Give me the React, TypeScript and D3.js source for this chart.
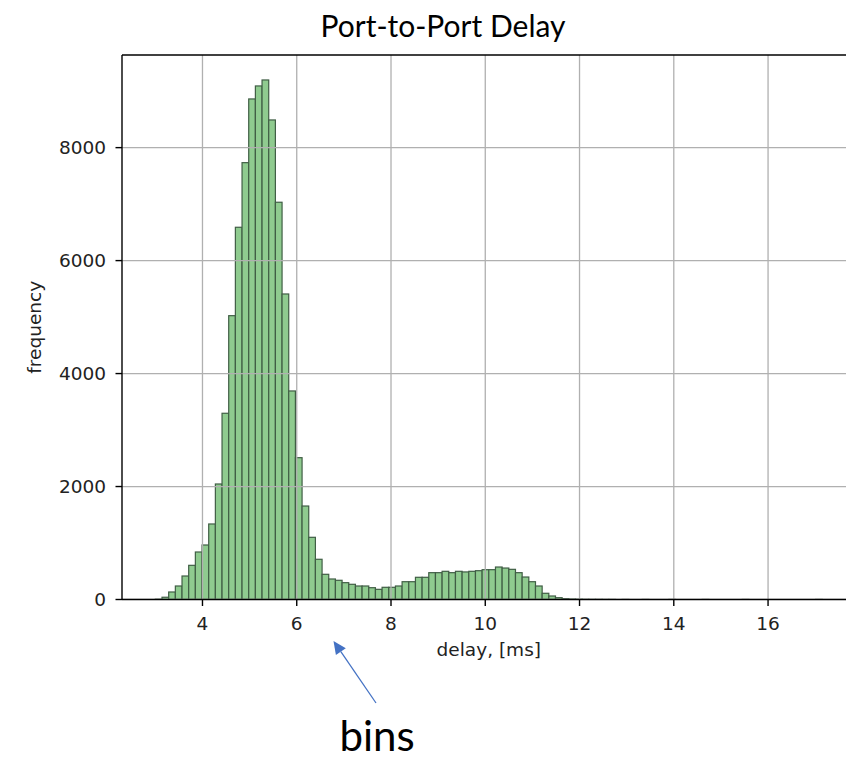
import React from "react";
import * as d3 from "d3";

// ---- data ----
const binStart = 3.0;
const binWidth = 0.1415;
const counts = [
  5, 40, 133, 239, 416, 605, 841, 965, 1337, 2045,
  3297, 5025, 6590, 7734, 8862, 9092, 9198, 8490, 7033, 5409,
  3692, 2511, 1655, 1101, 712, 446, 363, 340, 298, 269,
  239, 239, 209, 180, 216, 216, 239, 315, 315, 393,
  393, 475, 475, 499, 475, 499, 488, 499, 510, 528,
  528, 575, 557, 534, 475, 398, 315, 239, 110, 62,
  32, 15, 8, 5, 3, 2, 2, 1, 1, 0,
  1, 0, 0, 1, 0, 0, 0, 1, 0, 0,
  0, 0, 1, 0, 0, 0, 0, 0, 1, 0,
  0, 0, 0, 0, 0, 0, 0, 0, 0, 1,
];
const xTicks = [4, 6, 8, 10, 12, 14, 16];
const yTicks = [0, 2000, 4000, 6000, 8000];
const title = "Port-to-Port Delay";
const xLabel = "delay, [ms]";
const yLabel = "frequency";
const note = "bins";

const W = 846;
const H = 759;
const left = 122;
const right = 855.6;
const top = 55;
const bottom = 599.5;

export default function App() {
  const xMin = binStart - 0.05 * binWidth * counts.length;
  const xMax = binStart + binWidth * counts.length * 1.05;
  const x = d3.scaleLinear().domain([xMin, xMax]).range([left, right]);
  const y = d3.scaleLinear().domain([0, 9640]).range([bottom, top]);
  const tickFont = "'DejaVu Sans', sans-serif";
  const arrowTip = { x: 333.5, y: 641 };
  const arrowTail = { x: 376, y: 703 };
  const ang = Math.atan2(arrowTip.y - arrowTail.y, arrowTip.x - arrowTail.x);
  const hl = 13, hw = 6;
  const bx = arrowTip.x - hl * Math.cos(ang);
  const by = arrowTip.y - hl * Math.sin(ang);
  const head = [
    [arrowTip.x, arrowTip.y],
    [bx + hw * Math.sin(ang), by - hw * Math.cos(ang)],
    [bx - hw * Math.sin(ang), by + hw * Math.cos(ang)],
  ];
  return (
    <svg
      width={W}
      height={H}
      style={{ position: "absolute", left: 0, top: 0, background: "#fff" }}
    >
      <defs>
        <clipPath id="plot">
          <rect x={left} y={top} width={right - left} height={bottom - top} />
        </clipPath>
      </defs>
      <text
        x={443}
        y={37}
        textAnchor="middle"
        fontFamily="Lato, sans-serif"
        fontSize={30}
        fill="#000"
      >
        {title}
      </text>
      <g clipPath="url(#plot)">
        {counts.map((c, i) => {
          const x0 = x(binStart + i * binWidth);
          const x1 = x(binStart + (i + 1) * binWidth);
          return (
            <rect
              key={i}
              x={x0}
              y={y(c)}
              width={x1 - x0}
              height={bottom - y(c)}
              fill="#8fcb8f"
              stroke="#405e45"
              strokeWidth={1.2}
            />
          );
        })}
        {xTicks.map((t) => (
          <line key={"gx" + t} x1={x(t)} x2={x(t)} y1={top} y2={bottom} stroke="#b0b0b0" strokeWidth={1.3} />
        ))}
        {yTicks.map((t) => (
          <line key={"gy" + t} x1={left} x2={right} y1={y(t)} y2={y(t)} stroke="#b0b0b0" strokeWidth={1.3} />
        ))}
      </g>
      {/* spines */}
      <line x1={left} x2={left} y1={top} y2={bottom} stroke="#000" strokeWidth={1.4} />
      <line x1={left} x2={right} y1={bottom} y2={bottom} stroke="#000" strokeWidth={1.4} />
      <line x1={left} x2={right} y1={top} y2={top} stroke="#000" strokeWidth={1.4} />
      <line x1={right} x2={right} y1={top} y2={bottom} stroke="#000" strokeWidth={1.4} />
      {/* x ticks */}
      {xTicks.map((t) => (
        <g key={"xt" + t}>
          <line x1={x(t)} x2={x(t)} y1={bottom} y2={bottom + 6.5} stroke="#000" strokeWidth={1.4} />
          <text x={x(t)} y={630} textAnchor="middle" fontFamily={tickFont} fontSize={18.5} fill="#222">
            {t}
          </text>
        </g>
      ))}
      {/* y ticks */}
      {yTicks.map((t) => (
        <g key={"yt" + t}>
          <line x1={left - 6.5} x2={left} y1={y(t)} y2={y(t)} stroke="#000" strokeWidth={1.4} />
          <text x={106} y={y(t)} dy="0.36em" textAnchor="end" fontFamily={tickFont} fontSize={18.5} fill="#222">
            {t}
          </text>
        </g>
      ))}
      <text x={(left + right) / 2} y={656} textAnchor="middle" fontFamily={tickFont} fontSize={18.5} fill="#222">
        {xLabel}
      </text>
      <text
        transform={`translate(40.5, ${(top + bottom) / 2}) rotate(-90)`}
        textAnchor="middle"
        fontFamily={tickFont}
        fontSize={18.5}
        fill="#222"
      >
        {yLabel}
      </text>
      {/* annotation */}
      <line x1={arrowTail.x} y1={arrowTail.y} x2={bx} y2={by} stroke="#4472c4" strokeWidth={1.3} />
      <polygon points={head.map((p) => p.join(",")).join(" ")} fill="#4472c4" />
      <text x={377} y={751} textAnchor="middle" fontFamily="Lato, sans-serif" fontSize={42} fill="#000">
        {note}
      </text>
    </svg>
  );
}
